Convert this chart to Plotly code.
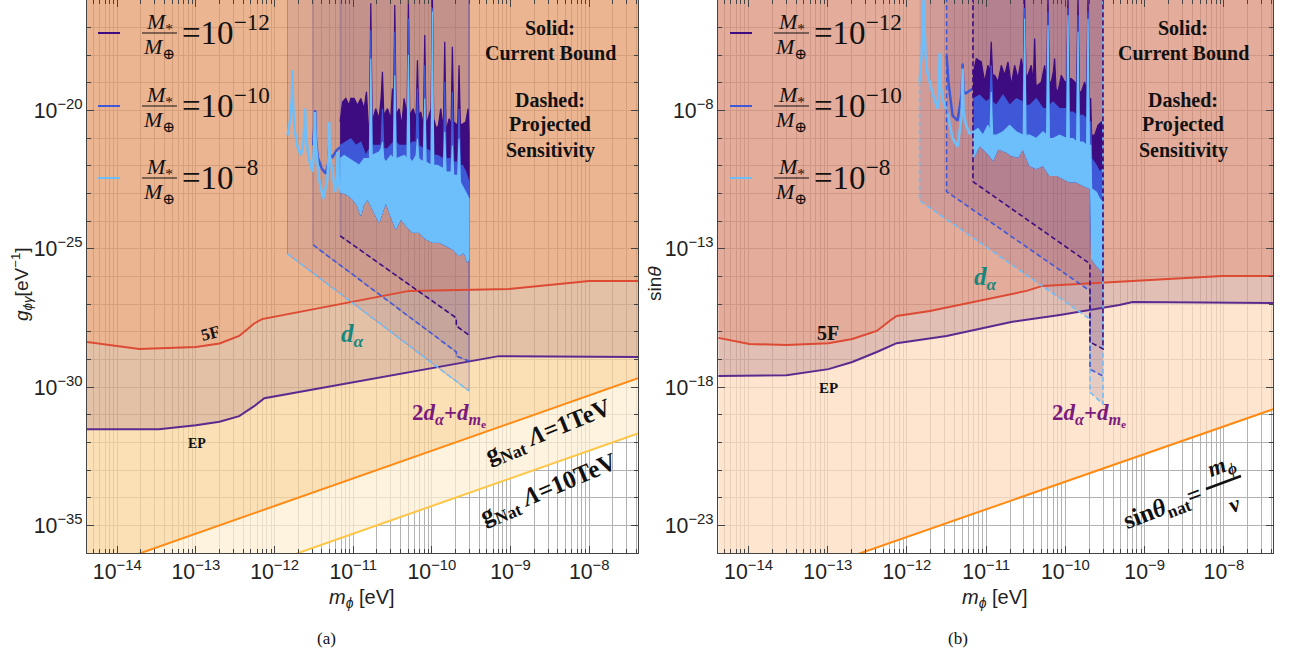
import plotly.graph_objects as go

W, H = 1289, 660
PH = 553  # plot-area height in px (top margin 0, bottom margin 107)

SERIF = "Liberation Serif, Times New Roman, DejaVu Serif, serif"
SANS = "Liberation Sans, Arial, DejaVu Sans, sans-serif"

# ---------------- data: log10 values ----------------
# Panel (a): g_phi_gamma [eV^-1] versus m_phi [eV]
A_5F_x = [-14.39, -13.72, -13.00, -12.70, -12.45, -12.26, -12.16, -10.29, -9.02, -8.00, -7.38]
A_5F_y = [-28.37, -28.62, -28.55, -28.42, -28.15, -27.70, -27.54, -26.52, -26.45, -26.16, -26.16]
A_EP_x = [-14.39, -13.47, -13.00, -12.70, -12.45, -12.26, -12.13, -9.15, -7.38]
A_EP_y = [-31.52, -31.52, -31.38, -31.25, -31.05, -30.69, -30.40, -28.88, -28.91]
A_nat1_x = [-14.39, -7.38]
A_nat1_y = [-36.69, -29.68]
A_nat10_x = [-14.39, -7.38]
A_nat10_y = [-38.69, -31.68]

A_da_dark_x = [-11.167, -9.69, -9.69, -9.528]
A_da_dark_y = [-24.53, -27.50, -27.79, -28.12]
A_da_blue_x = [-11.51, -9.69, -9.69, -9.528]
A_da_blue_y = [-24.86, -28.73, -28.88, -29.06]
A_da_light_x = [-11.836, -9.528]
A_da_light_y = [-25.18, -30.14]

A_light_pre_x = [-11.836, -11.800, -11.780, -11.773, -11.765, -11.745, -11.710, -11.667, -11.635, -11.618,
                 -11.612, -11.604, -11.570, -11.518, -11.497, -11.489, -11.480, -11.440, -11.383, -11.330,
                 -11.312, -11.306, -11.298, -11.230, -11.205, -11.200, -11.195, -11.167]
A_light_pre_y = [-20.89, -20.30, -19.50, -18.54, -19.80, -20.70, -21.30, -21.62, -21.20, -20.50,
                 -19.93, -20.80, -21.70, -22.22, -21.30, -20.05, -21.00, -22.40, -23.19, -22.50,
                 -21.50, -20.41, -21.60, -22.95, -22.20, -21.50, -22.30, -22.89]
A_blue_pre_x = [-11.510, -11.492, -11.484, -11.476, -11.450, -11.400, -11.349, -11.320, -11.306, -11.298,
                -11.264, -11.213, -11.167]
A_blue_pre_y = [-21.26, -20.30, -19.99, -21.00, -21.70, -22.10, -22.28, -21.90, -21.20, -21.60,
                -21.68, -21.44, -21.32]

A_dark_top_x = [-11.167, -11.137, -11.095, -11.053, -11.031, -10.989, -10.947, -10.904, -10.862, -10.832,
                -10.807, -10.794, -10.777, -10.760, -10.714, -10.671, -10.646, -10.629, -10.612, -10.565,
                -10.523, -10.502, -10.489, -10.472, -10.455, -10.417, -10.383, -10.354, -10.316, -10.299,
                -10.282, -10.239, -10.201, -10.184, -10.167, -10.142, -10.108, -10.091, -10.074, -10.036,
                -10.011, -9.994, -9.977, -9.943, -9.917, -9.888, -9.854, -9.837, -9.820, -9.782,
                -9.756, -9.740, -9.723, -9.672, -9.655, -9.638, -9.604, -9.570, -9.540, -9.528]
A_dark_top_y = [-20.41, -19.69, -19.56, -19.81, -19.56, -19.56, -19.81, -19.56, -19.93, -19.32,
                -20.65, -20.53, -16.12, -20.41, -19.93, -20.29, -19.56, -18.60, -20.17, -19.93,
                -20.29, -19.20, -20.17, -16.18, -20.17, -19.93, -20.53, -19.56, -20.17, -15.90,
                -20.17, -19.93, -20.29, -18.18, -20.17, -20.05, -20.53, -17.27, -20.53, -20.17,
                -19.93, -15.90, -20.29, -20.65, -20.53, -19.93, -20.65, -17.51, -20.77, -20.29,
                -20.53, -17.69, -20.41, -20.53, -18.36, -20.53, -20.47, -20.41, -19.93, -20.77]
A_blue_top_x = [-11.167, -11.095, -11.031, -10.968, -10.904, -10.841, -10.794, -10.777, -10.760, -10.714,
                -10.646, -10.629, -10.612, -10.565, -10.489, -10.472, -10.455, -10.417, -10.316, -10.299,
                -10.282, -10.248, -10.201, -10.184, -10.167, -10.108, -10.091, -10.074, -10.011, -9.994,
                -9.977, -9.930, -9.854, -9.837, -9.820, -9.756, -9.740, -9.723, -9.672, -9.655,
                -9.638, -9.612, -9.570, -9.528]
A_blue_top_y = [-21.26, -21.14, -21.02, -21.26, -21.14, -21.62, -21.38, -17.09, -21.26, -21.26,
                -21.26, -19.93, -21.38, -21.38, -21.14, -17.15, -21.14, -21.26, -21.26, -16.67,
                -21.26, -21.14, -21.14, -19.20, -21.26, -21.38, -18.36, -21.38, -21.50, -16.30,
                -21.62, -21.62, -21.74, -18.96, -21.74, -21.74, -19.32, -21.86, -21.86, -19.93,
                -21.98, -21.98, -22.22, -22.59]
A_light_top_x = [-11.167, -11.116, -11.053, -10.989, -10.925, -10.862, -10.794, -10.777, -10.760, -10.671,
                 -10.646, -10.629, -10.612, -10.587, -10.523, -10.489, -10.472, -10.455, -10.354, -10.316,
                 -10.299, -10.282, -10.248, -10.201, -10.184, -10.167, -10.108, -10.091, -10.074, -10.011,
                 -9.994, -9.977, -9.930, -9.854, -9.837, -9.820, -9.756, -9.740, -9.723, -9.672,
                 -9.655, -9.638, -9.612, -9.570, -9.528]
A_light_top_y = [-21.74, -21.62, -21.74, -21.86, -21.98, -21.74, -21.74, -18.12, -21.62, -21.50,
                 -21.38, -21.14, -21.74, -21.86, -21.62, -21.74, -18.72, -21.74, -21.62, -21.74,
                 -17.99, -21.74, -21.86, -21.62, -21.02, -21.74, -21.86, -19.56, -21.86, -21.98,
                 -16.42, -21.98, -21.98, -22.10, -20.77, -22.22, -22.22, -21.26, -22.34, -22.34,
                 -21.02, -22.59, -22.71, -22.95, -23.19]
A_light_bot_x = [-11.167, -11.095, -11.010, -10.947, -10.904, -10.875, -10.820, -10.735, -10.671, -10.629,
                 -10.587, -10.523, -10.460, -10.396, -10.333, -10.248, -10.163, -10.078, -9.994, -9.909,
                 -9.824, -9.740, -9.655, -9.591, -9.549, -9.528]
A_light_bot_y = [-22.95, -23.01, -23.19, -23.43, -23.79, -23.43, -23.19, -23.67, -24.03, -23.67,
                 -23.31, -23.79, -24.28, -23.91, -24.15, -24.40, -24.40, -24.64, -24.76, -24.76,
                 -24.88, -25.00, -25.24, -25.12, -25.48, -25.36]

# Panel (b): sin(theta) versus m_phi [eV]
B_5F_x = [-14.38, -13.99, -13.52, -12.99, -12.69, -12.38, -12.22, -12.13, -11.71, -11.08, -10.49, -10.29, -8.02, -7.38]
B_5F_y = [-16.22, -16.44, -16.48, -16.41, -16.26, -15.97, -15.61, -15.43, -15.25, -14.88, -14.52, -14.34, -13.98, -13.98]
B_EP_x = [-14.38, -13.52, -12.99, -12.69, -12.38, -12.22, -12.13, -11.50, -10.67, -10.07, -9.32, -9.15, -7.38]
B_EP_y = [-17.60, -17.57, -17.35, -17.09, -16.73, -16.51, -16.41, -16.15, -15.64, -15.39, -15.03, -14.92, -14.96]
B_nat_x = [-14.38, -7.38]
B_nat_y = [-25.80, -18.80]

B_da_dark_x = [-11.167, -11.167, -9.69, -9.69, -9.526, -9.526]
B_da_dark_y = [-3.90, -10.57, -13.54, -16.37, -16.62, -3.90]
B_da_blue_x = [-11.50, -11.50, -9.69, -9.69, -9.526]
B_da_blue_y = [-3.90, -10.93, -14.52, -17.35, -17.60]
B_da_light_x = [-11.841, -11.841, -9.69, -9.69, -9.526, -9.526]
B_da_light_y = [-6.95, -11.26, -15.54, -18.18, -18.62, -3.90]

B_light_pre_x = [-11.841, -11.815, -11.790, -11.765, -11.740, -11.677, -11.614, -11.596, -11.588, -11.580,
                 -11.551, -11.487, -11.424, -11.361, -11.310, -11.298, -11.286, -11.260, -11.210, -11.167]
B_light_pre_y = [-6.95, -6.00, -3.90, -6.00, -6.66, -7.38, -7.93, -7.00, -5.93, -7.00,
                 -7.57, -8.11, -9.01, -9.30, -8.20, -6.48, -8.00, -8.47, -8.83, -8.77]
B_blue_pre_x = [-11.500, -11.490, -11.475, -11.424, -11.361, -11.310, -11.298, -11.286, -11.260, -11.167]
B_blue_pre_y = [-6.00, -6.60, -7.02, -8.18, -8.36, -7.40, -6.30, -7.30, -7.38, -7.20]

B_dark_top_x = [-11.167, -11.125, -11.062, -11.020, -10.978, -10.952, -10.936, -10.919, -10.894, -10.851,
                -10.809, -10.767, -10.725, -10.683, -10.641, -10.599, -10.557, -10.532, -10.515, -10.498,
                -10.473, -10.431, -10.405, -10.388, -10.372, -10.346, -10.304, -10.262, -10.237, -10.220,
                -10.203, -10.178, -10.153, -10.136, -10.119, -10.094, -10.052, -10.010, -9.984, -9.968,
                -9.951, -9.926, -9.883, -9.858, -9.841, -9.824, -9.799, -9.757, -9.732, -9.715,
                -9.698, -9.681, -9.669, -9.631, -9.589, -9.547, -9.526]
B_dark_top_y = [-6.72, -6.12, -6.24, -6.96, -6.36, -6.60, -5.51, -6.72, -6.72, -6.96,
                -6.36, -6.72, -6.24, -7.08, -6.36, -6.84, -6.12, -6.60, -3.90, -6.72,
                -6.72, -6.36, -6.96, -5.39, -7.08, -7.08, -6.96, -6.36, -6.96, -3.90,
                -6.96, -6.96, -6.60, -6.12, -7.20, -7.32, -6.72, -6.96, -6.96, -3.90,
                -6.84, -6.84, -6.96, -7.08, -3.90, -7.32, -7.32, -6.96, -7.32, -3.90,
                -7.57, -7.57, -8.89, -8.89, -8.53, -8.41, -8.53]
B_blue_top_x = [-11.167, -11.083, -10.999, -10.952, -10.936, -10.919, -10.873, -10.788, -10.704, -10.620,
                -10.532, -10.515, -10.498, -10.452, -10.367, -10.283, -10.237, -10.220, -10.203, -10.157,
                -10.073, -9.984, -9.968, -9.951, -9.904, -9.858, -9.841, -9.824, -9.778, -9.732,
                -9.715, -9.698, -9.681, -9.669, -9.610, -9.568, -9.526]
B_blue_top_y = [-7.57, -7.44, -7.69, -7.57, -6.36, -7.69, -7.81, -7.44, -7.81, -7.57,
                -7.69, -4.30, -7.81, -7.81, -7.57, -7.93, -7.93, -4.42, -7.81, -7.69,
                -7.93, -7.93, -4.30, -8.05, -8.05, -8.17, -4.55, -8.17, -8.17, -8.29,
                -4.42, -8.41, -8.41, -9.74, -9.98, -10.22, -10.10]
B_light_top_x = [-11.167, -11.104, -11.041, -10.978, -10.952, -10.936, -10.919, -10.873, -10.788, -10.704,
                 -10.620, -10.532, -10.515, -10.498, -10.452, -10.367, -10.283, -10.237, -10.220, -10.203,
                 -10.157, -10.073, -9.984, -9.968, -9.951, -9.904, -9.858, -9.841, -9.824, -9.778,
                 -9.732, -9.715, -9.698, -9.681, -9.669, -9.610, -9.568, -9.526]
B_light_top_y = [-8.77, -8.65, -8.89, -8.53, -8.77, -7.32, -8.89, -8.89, -8.77, -8.53,
                 -8.77, -8.89, -4.67, -8.89, -8.89, -9.01, -8.77, -8.89, -4.91, -9.01,
                 -9.01, -8.89, -9.01, -4.55, -9.01, -9.01, -9.14, -5.15, -9.14, -9.14,
                 -9.26, -4.67, -9.26, -9.26, -10.83, -10.95, -11.19, -11.31]
B_light_bot_x = [-11.167, -11.083, -10.999, -10.957, -10.915, -10.851, -10.746, -10.683, -10.599, -10.536,
                 -10.452, -10.367, -10.283, -10.199, -10.115, -10.031, -9.947, -9.862, -9.778, -9.681,
                 -9.669, -9.610, -9.568, -9.526]
B_light_bot_y = [-9.74, -9.26, -9.50, -9.62, -9.80, -9.38, -9.50, -9.62, -9.68, -9.38,
                 -9.98, -10.10, -9.98, -10.34, -10.34, -10.46, -10.58, -10.58, -10.71, -10.83,
                 -13.36, -13.60, -13.72, -13.85]

# tick / label text
LEGEND_EXP = ["−12", "−10", "−8"]

# ---------------- styling ----------------
C_DARK = "#3d0c80"
C_BLUE = "#3e58d8"
C_LIGHT = "#6dbffb"
C_5F = "#dc4a34"
C_EP = "#5b2a8e"
C_NAT1 = "#ff8a14"
C_NAT10 = "#ffc545"
TEAL = "#17877d"
PURP = "#7b1a7b"
GRID = "rgb(178,178,178)"

XMIN, XMAX = -14.40, -7.37
AX_A = ("x", "y")
AX_B = ("x2", "y2")

fig = go.Figure()


def E(v):
    return [None if a is None else 10.0 ** a for a in v]


def trace(xs, ys, ax, **kw):
    fig.add_trace(go.Scatter(x=E(xs), y=E(ys), xaxis=ax[0], yaxis=ax[1], mode="lines",
                             hoverinfo="skip", showlegend=False, **kw))


def poly(xs, ys, ax, fillcolor, line=None):
    trace(xs, ys, ax, fill="toself", fillcolor=fillcolor,
          line=line if line else dict(width=0, color=fillcolor))


def rev(v):
    return list(v)[::-1]


def panel(ax, top, F_x, F_y, EP_x, EP_y, nats, cols, da, pre, bands, da_outline, da_fill):
    # shaded bands
    poly(F_x + [XMAX, XMIN], F_y + [top, top], ax, cols[0])
    poly(F_x + rev(EP_x), F_y + rev(EP_y), ax, cols[1])
    poly(EP_x + rev(nats[0][0]), EP_y + rev(nats[0][1]), ax, cols[2])
    if len(nats) > 1:
        poly(nats[0][0] + rev(nats[1][0]), nats[0][1] + rev(nats[1][1]), ax, cols[3])
    # d_alpha regions
    for xs, ys in da:
        poly([xs[0]] + xs + [xs[-1]], [top] + ys + [top], ax, da_fill, line=da_outline)
    # constraint lines
    trace(F_x, F_y, ax, line=dict(color=C_5F, width=2))
    trace(EP_x, EP_y, ax, line=dict(color=C_EP, width=2))
    for (nx, ny), c in zip(nats, [C_NAT1, C_NAT10]):
        trace(nx, ny, ax, line=dict(color=c, width=2))
    # resonance curves (dense oscillations drawn as bands + spikes)
    (dk_x, dk_y), (bl_x, bl_y), (lt_x, lt_y), (bot_x, bot_y) = bands
    (lp_x, lp_y), (bp_x, bp_y) = pre
    poly(dk_x + rev(bot_x), dk_y + rev(bot_y), ax, C_DARK, line=dict(color=C_DARK, width=1.2))
    poly(bl_x + rev(bot_x), bl_y + rev(bot_y), ax, C_BLUE, line=dict(color=C_BLUE, width=1.2))
    trace(bp_x, bp_y, ax, line=dict(color=C_BLUE, width=2.5))
    poly(lt_x + rev(bot_x), lt_y + rev(bot_y), ax, C_LIGHT, line=dict(color=C_LIGHT, width=1.2))
    trace(lp_x, lp_y, ax, line=dict(color=C_LIGHT, width=2.5))
    # projected sensitivities (dashed)
    for (xs, ys), c in zip(da, [C_LIGHT, C_BLUE, C_DARK]):
        trace(xs, ys, ax, line=dict(color=c, width=1.6, dash="5px,3px"))


panel(AX_A, -15.0, A_5F_x, A_5F_y, A_EP_x, A_EP_y,
      [(A_nat1_x, A_nat1_y), (A_nat10_x, A_nat10_y)],
      ["rgba(228,152,102,0.72)", "rgba(215,169,131,0.72)", "rgba(249,211,152,0.72)", "rgba(254,238,211,0.72)"],
      [(A_da_light_x, A_da_light_y), (A_da_blue_x, A_da_blue_y), (A_da_dark_x, A_da_dark_y)],
      [(A_light_pre_x, A_light_pre_y), (A_blue_pre_x, A_blue_pre_y)],
      [(A_dark_top_x, A_dark_top_y), (A_blue_top_x, A_blue_top_y), (A_light_top_x, A_light_top_y),
       (A_light_bot_x, A_light_bot_y)],
      dict(width=1, color="rgba(105,85,185,0.45)"), "rgba(110,70,130,0.12)")

panel(AX_B, -3.0, B_5F_x, B_5F_y, B_EP_x, B_EP_y,
      [(B_nat_x, B_nat_y)],
      ["rgba(218,140,116,0.72)", "rgba(215,166,151,0.72)", "rgba(252,219,188,0.72)"],
      [(B_da_light_x, B_da_light_y), (B_da_blue_x, B_da_blue_y), (B_da_dark_x, B_da_dark_y)],
      [(B_light_pre_x, B_light_pre_y), (B_blue_pre_x, B_blue_pre_y)],
      [(B_dark_top_x, B_dark_top_y), (B_blue_top_x, B_blue_top_y), (B_light_top_x, B_light_top_y),
       (B_light_bot_x, B_light_bot_y)],
      dict(width=0, color="rgba(0,0,0,0)"), "rgba(110,70,130,0.16)")


# ---------------- annotations ----------------
def py(y):
    return (PH - y) / PH


def ann(x, y, text, size, color="#111", family=SERIF, angle=0, xanchor="center", yanchor="middle"):
    fig.add_annotation(x=x / W, y=py(y), xref="paper", yref="paper", text=text, showarrow=False,
                       font=dict(size=size, color=color, family=family), textangle=angle,
                       xanchor=xanchor, yanchor=yanchor)


def hline(x0, x1, y0, y1, color, width):
    fig.add_shape(type="line", xref="paper", yref="paper", x0=x0 / W, x1=x1 / W, y0=py(y0), y1=py(y1),
                  line=dict(color=color, width=width))


for off in (0, 632):
    for yc, col, ex in zip([33, 106, 178], [C_DARK, C_BLUE, C_LIGHT], LEGEND_EXP):
        hline(98 + off, 120 + off, yc, yc, col, 2)
        hline(142 + off, 177 + off, yc, yc, "#111", 1.2)
        ann(159 + off, yc - 10, "<i>M</i><sub>*</sub>", 22)
        ann(159 + off, yc + 15, "<i>M</i><sub>⊕</sub>", 22)
        ann(180 + off, yc - 3, "=10<sup>" + ex + "</sup>", 33, xanchor="left")
    sx = 550 + off + (1 if off else 0)
    ann(sx, 28, "<b>Solid:</b>", 20)
    ann(sx, 53, "<b>Current Bound</b>", 20)
    ann(sx, 100, "<b>Dashed:</b>", 20)
    ann(sx, 125, "<b>Projected</b>", 20)
    ann(sx, 150, "<b>Sensitivity</b>", 20)

ann(210, 333, "<b>5F</b>", 17, angle=-15)
ann(197, 443, "<b>EP</b>", 14)
ann(828, 333, "<b>5F</b>", 20)
ann(828, 388, "<b>EP</b>", 15)

DA = "<b><i>d</i><sub><i>α</i></sub></b>"
ann(353, 335, DA, 25, color=TEAL)
ann(986, 278, DA, 25, color=TEAL)
DME = "<b>2<i>d</i><sub><i>α</i></sub>+<i>d</i><sub><i>m</i><sub>e</sub></sub></b>"
ann(449, 415, DME, 23, color=PURP)
ann(1089, 415, DME, 23, color=PURP)

ann(548, 432, "<b>g<sub>Nat</sub> <i>Λ</i>=1TeV</b>", 25, angle=-22)
ann(548, 490, "<b>g<sub>Nat</sub> <i>Λ</i>=10TeV</b>", 25, angle=-23)

ann(1163, 508, "<b>sin<i>θ</i><sub>nat</sub>=</b>", 25, angle=-21)
ann(1221, 467, "<b><i>m</i><sub><i>ϕ</i></sub></b>", 23, angle=-21)
hline(1206, 1241, 489, 476, "#111", 2.5)
ann(1234, 504, "<b><i>v</i></b>", 23, angle=-21)

ann(362, 598, "<i>m</i><sub><i>ϕ</i></sub> [eV]", 20, family=SANS, color="#222")
ann(995, 598, "<i>m</i><sub><i>ϕ</i></sub> [eV]", 20, family=SANS, color="#222")
ann(21, 284, "<i>g</i><sub><i>ϕγ</i></sub>[eV<sup>−1</sup>]", 19, family=SANS, color="#222", angle=-90)
ann(654, 284, "sin<i>θ</i>", 19, family=SANS, color="#222", angle=-90)
ann(326, 638, "(a)", 17)
ann(958, 638, "(b)", 17)

# ---------------- axes ----------------
xcommon = dict(type="log", range=[-14.385, -7.38], dtick=1, exponentformat="power", showexponent="all",
               ticks="inside", ticklen=7, tickwidth=1, tickcolor="#444", automargin=False,
               showline=True, linecolor="#444", linewidth=1, mirror="allticks",
               showgrid=True, gridcolor=GRID, gridwidth=1, zeroline=False,
               tickfont=dict(family=SANS, size=17, color="#222"),
               minor=dict(dtick="D1", ticks="inside", ticklen=4, tickcolor="#444",
                          showgrid=True, gridcolor=GRID, gridwidth=1))
ycommon = dict(type="log", dtick=5, exponentformat="power", showexponent="all",
               ticks="inside", ticklen=7, tickwidth=1, tickcolor="#444", automargin=False,
               showline=True, linecolor="#444", linewidth=1, mirror="allticks",
               showgrid=True, gridcolor=GRID, gridwidth=1, zeroline=False,
               tickfont=dict(family=SANS, size=17, color="#222"),
               minor=dict(dtick=1, ticks="inside", ticklen=4, tickcolor="#444",
                          showgrid=True, gridcolor=GRID, gridwidth=1))

fig.update_layout(
    template="none",
    width=W, height=H, margin=dict(l=0, r=0, t=0, b=107, autoexpand=False),
    paper_bgcolor="white", plot_bgcolor="white", showlegend=False,
    xaxis=dict(xcommon, domain=[87 / W, 638 / W], anchor="y"),
    yaxis=dict(ycommon, range=[-36, -16], tick0=0, domain=[0, 1], anchor="x"),
    xaxis2=dict(xcommon, domain=[718 / W, 1273 / W], anchor="y2"),
    yaxis2=dict(ycommon, range=[-24, -4], tick0=-3, domain=[0, 1], anchor="x2"),
)

# page body without the browser's default 8px margin, so the figure sits at the window origin
fig.write_html("out.html", config={"displayModeBar": False},
               post_script="document.body.style.margin='0';document.body.style.padding='0';")
